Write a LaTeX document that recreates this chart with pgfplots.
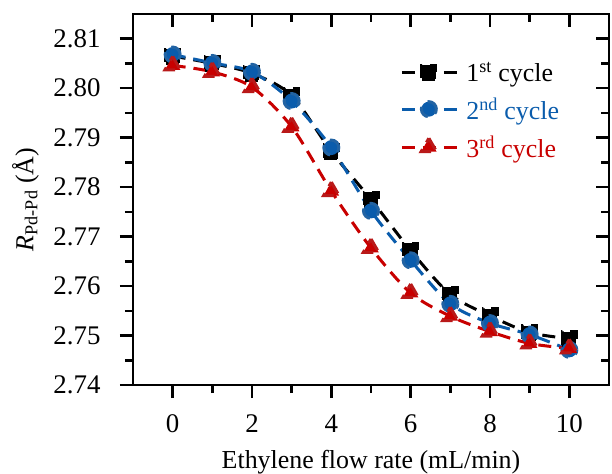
\documentclass[border=0pt]{standalone}
\usepackage{fontspec}
\setmainfont{Liberation Serif}
\newfontfamily\tnr{Liberation Serif}
\usepackage{pgfplots}
\pgfplotsset{compat=1.18}

\definecolor{cblue}{RGB}{10,92,172}
\definecolor{cred}{RGB}{200,0,0}

\begin{document}
\begin{tikzpicture}
\useasboundingbox (-133bp,-89bp) rectangle (479bp,385bp);
\pgfplotsset{
  frame/.style={
    width=476bp, height=371bp, scale only axis,
    xmin=-1, xmax=11, ymin=2.74, ymax=2.815,
    xtick={0,2,4,6,8,10}, minor xtick={1,3,5,7,9},
    ytick={2.74,2.75,2.76,2.77,2.78,2.79,2.80,2.81},
    minor ytick={2.745,2.755,2.765,2.775,2.785,2.795,2.805},
    axis line style={line width=2.5bp},
    major tick length=13bp, minor tick length=8bp,
    every tick/.style={line width=2.5bp, black},
  },
  cyc/.style={line width=3bp, dash pattern=on 13bp off 8bp, smooth,
    every mark/.append style={solid, line width=0.6bp}},
}

% inward ticks on top and right
\begin{axis}[frame, tick align=inside,
  xtick pos=right, ytick pos=right,
  xticklabel=\empty, yticklabel=\empty]
\end{axis}

\begin{axis}[frame, tick align=outside,
  xtick pos=left, ytick pos=left,
  xticklabel={\pgfmathprintnumber[assume math mode=true]{\tick}},
  yticklabel={\pgfmathprintnumber[fixed, fixed zerofill, precision=2, assume math mode=true]{\tick}},
  ticklabel style={font=\tnr\fontsize{27}{30}\selectfont},
  xticklabel shift=13bp,
  yticklabel shift=16bp,
  xlabel={Ethylene flow rate (mL/min)},
  ylabel={\textit{R}\textsubscript{Pd-Pd} (Å)},
  xlabel style={at={(axis description cs:0.5,-0.2075)}, anchor=center},
  ylabel style={at={(axis description cs:-0.2257,0.5)}, anchor=center},
  label style={font=\tnr\fontsize{26}{30}\selectfont},
  legend cell align=left,
  legend image code/.code={%
    \draw[mark repeat=2, mark phase=2, #1] plot coordinates {(0bp,0bp) (27bp,0bp) (55bp,0bp)};},
  legend style={at={(0.555,0.882)}, anchor=north west, draw=none, fill=none,
    font=\tnr\fontsize{26}{30}\selectfont, row sep=11bp,
    nodes={inner xsep=8bp},
    /tikz/every even column/.append style={column sep=8bp}},
]
\addplot[cyc, black, mark=square*, mark size=7bp,
  mark options={fill=black, draw=black}] coordinates {
(0,2.8065) (1,2.8050) (2,2.8030) (3,2.7985) (4,2.7872) (5,2.7775)
(6,2.7672) (7,2.7583) (8,2.7540) (9,2.7506) (10,2.7494)
};
\addlegendentry{1\textsuperscript{st} cycle}

\addplot[cyc, cblue, mark=*, mark size=7.5bp,
  mark options={fill=cblue, draw=cblue!80!gray}] coordinates {
(0,2.8068) (1,2.8051) (2,2.8033) (3,2.7974) (4,2.7880) (5,2.7752)
(6,2.7652) (7,2.7564) (8,2.7525) (9,2.7502) (10,2.7471)
};
\addlegendentry{\textcolor{cblue}{2\textsuperscript{nd} cycle}}

\addplot[cyc, cred, mark=triangle*, mark size=9bp,
  mark options={fill=cred, draw=cred!80!gray}] coordinates {
(0,2.8046) (1,2.8033) (2,2.8002) (3,2.7922) (4,2.7792) (5,2.7677)
(6,2.7586) (7,2.7539) (8,2.7508) (9,2.7484) (10,2.7474)
};
\addlegendentry{\textcolor{cred}{3\textsuperscript{rd} cycle}}
\end{axis}
\end{tikzpicture}
\end{document}
